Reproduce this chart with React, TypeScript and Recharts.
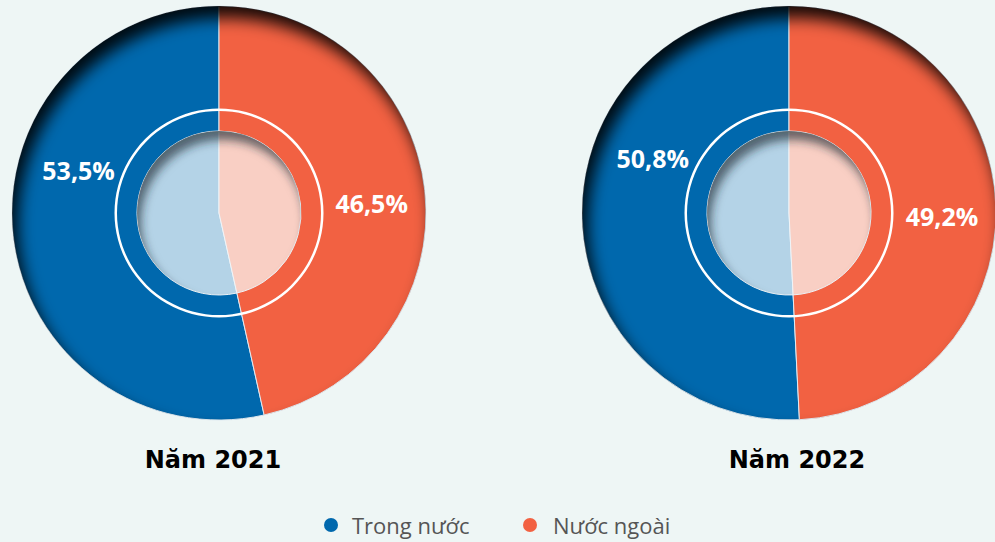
import React from "react";
import { Cell, Pie, PieChart } from "recharts";

// share of tourists (%), per year
const categories = ["Trong nước", "Nước ngoài"];
const years = ["Năm 2021", "Năm 2022"];
const share2021 = [53.5, 46.5];
const share2022 = [50.8, 49.2];
const ringValue = [100];

const BLUE = "#0068ad";
const ORANGE = "#f26142";
const LIGHT = ["#b4d3e7", "#f9cfc4"];
const COLORS = [BLUE, ORANGE];

const toData = (values: number[], colors: string[]) =>
  values.map((value, i) => ({ name: categories[i], value, fill: colors[i] }));

const RAD = Math.PI / 180;
// nudge of each label away from the middle of its slice (degrees), and its radius
const LABEL_SHIFT = [-23.5, -2.5];
const LABEL_R = [147, 153];

const renderLabel = (props: any) => {
  const { cx, cy, midAngle, index, value } = props;
  const a = (midAngle + LABEL_SHIFT[index]) * RAD;
  const r = LABEL_R[index];
  const x = cx + r * Math.cos(-a);
  const y = cy + r * Math.sin(-a);
  return (
    <text
      x={x}
      y={y}
      fill="#fff"
      textAnchor="middle"
      dominantBaseline="central"
      style={{ fontFamily: "'Open Sans', sans-serif", fontWeight: 700, fontSize: 25 }}
    >
      {`${value.toFixed(1).replace(".", ",")}%`}
    </text>
  );
};

const CENTERS = [219, 789];
const CY = 213;

const shadowPie = (k: number, radius: number, filterId: string) => (
  <Pie
    key={`${filterId}-${k}`}
    data={ringValue.map((value) => ({ value, fill: "#000", filter: `url(#${filterId})` }))}
    dataKey="value"
    cx={CENTERS[k]}
    cy={CY}
    outerRadius={radius}
    innerRadius={0}
    startAngle={90}
    endAngle={450}
    stroke="none"
    isAnimationActive={false}
  >
    {ringValue.map((_, i) => (
      <Cell key={i} fill="#000" stroke="none" filter={`url(#${filterId})`} />
    ))}
  </Pie>
);

export default function App() {
  const sets = [share2021, share2022];
  return (
    <div
      style={{
        position: "absolute",
        left: 0,
        top: 0,
        width: 995,
        height: 542,
        background: "#eef6f5",
        overflow: "hidden",
      }}
    >
      <svg width={0} height={0} style={{ position: "absolute" }}>
        <defs>
          <filter id="insetOuter" x="-20%" y="-20%" width="140%" height="140%">
            <feOffset in="SourceAlpha" dx={6} dy={12} result="off" />
            <feGaussianBlur in="off" stdDeviation={8} result="blur" />
            <feComposite in="SourceAlpha" in2="blur" operator="out" result="inner" />
            <feFlood floodColor="#000" floodOpacity={0.9} />
            <feComposite in2="inner" operator="in" />
          </filter>
          <filter id="insetInner" x="-20%" y="-20%" width="140%" height="140%">
            <feOffset in="SourceAlpha" dx={4} dy={9} result="off" />
            <feGaussianBlur in="off" stdDeviation={5} result="blur" />
            <feComposite in="SourceAlpha" in2="blur" operator="out" result="inner" />
            <feFlood floodColor="#1d2a33" floodOpacity={0.65} />
            <feComposite in2="inner" operator="in" />
          </filter>
        </defs>
      </svg>
      <PieChart width={995} height={542} margin={{ top: 0, right: 0, bottom: 0, left: 0 }}>
        {sets.map((values, k) => (
          <Pie
            key={`outer-${k}`}
            data={toData(values, COLORS)}
            dataKey="value"
            cx={CENTERS[k]}
            cy={CY}
            outerRadius={207}
            innerRadius={0}
            startAngle={90}
            endAngle={450}
            stroke="#dfeaf2"
            strokeWidth={1}
            label={renderLabel}
            labelLine={false}
            isAnimationActive={false}
          />
        ))}
        {sets.map((_, k) => shadowPie(k, 207, "insetOuter"))}
        {sets.map((_, k) => (
          <Pie
            key={`ring-${k}`}
            data={ringValue.map((value) => ({ value, fill: "#fff" }))}
            dataKey="value"
            cx={CENTERS[k]}
            cy={CY}
            outerRadius={104.5}
            innerRadius={102}
            startAngle={90}
            endAngle={450}
            stroke="none"
            isAnimationActive={false}
          />
        ))}
        {sets.map((values, k) => (
          <Pie
            key={`inner-${k}`}
            data={toData(values, LIGHT)}
            dataKey="value"
            cx={CENTERS[k]}
            cy={CY}
            outerRadius={82}
            innerRadius={0}
            startAngle={90}
            endAngle={450}
            stroke="#eef4f8"
            strokeWidth={1}
            isAnimationActive={false}
          />
        ))}
        {sets.map((_, k) => shadowPie(k, 82, "insetInner"))}
      </PieChart>
      {years.map((year, k) => (
        <div
          key={year}
          style={{
            position: "absolute",
            top: 443,
            left: CENTERS[k] - 6 + (k === 1 ? 14 : 0) - 150,
            width: 300,
            textAlign: "center",
            fontFamily: "'DejaVu Sans', sans-serif",
            fontWeight: 700,
            fontSize: 24,
            lineHeight: "34px",
            color: "#000",
          }}
        >
          {year}
        </div>
      ))}
      {categories.map((c, i) => (
        <div
          key={c}
          style={{
            position: "absolute",
            top: 509,
            left: [324, 523][i],
            display: "flex",
            alignItems: "center",
            fontFamily: "'Open Sans', sans-serif",
            fontSize: 22,
            color: "#555",
            lineHeight: "32px",
          }}
        >
          <span
            style={{
              width: 14,
              height: 14,
              borderRadius: 7,
              background: COLORS[i],
              marginRight: [14, 16][i],
              display: "inline-block",
            }}
          />
          {c}
        </div>
      ))}
    </div>
  );
}
